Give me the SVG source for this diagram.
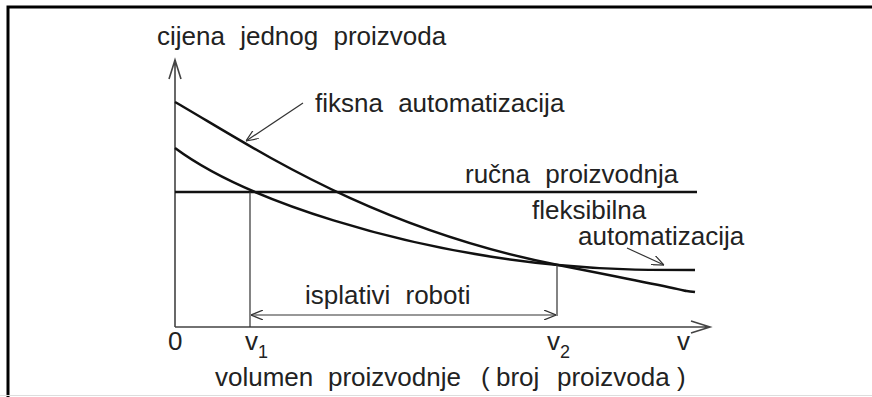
<svg xmlns="http://www.w3.org/2000/svg" width="872" height="397" viewBox="0 0 872 397">
<style>
text{font-family:"Liberation Sans",Arial,sans-serif;font-size:26px;fill:#222;word-spacing:8px}
.sub{font-size:18px}
.ax{stroke:#444;stroke-width:1.6;fill:none}
.cv{stroke:#111;stroke-width:2.5;fill:none}
.thin{stroke:#333;stroke-width:1.2;fill:none}
</style>
<defs>
<marker id="ah" viewBox="0 0 12 10" refX="12" refY="5" markerWidth="12" markerHeight="10" markerUnits="userSpaceOnUse" orient="auto-start-reverse">
<path d="M0,0 L12,5 L0,10" fill="none" stroke="#333" stroke-width="1.2"/>
</marker>
</defs>
<rect x="0" y="0" width="872" height="397" fill="#fff"/>
<path d="M8,397 V7 H872" fill="none" stroke="#000" stroke-width="3"/>
<line x1="0" y1="395.5" x2="872" y2="395.5" stroke="#ddd" stroke-width="1"/>
<g id="axes">
<path class="ax" d="M175,327 V60 M169,79 L175,60 L181,79"/>
<path class="ax" d="M175,327 H710 M691,321 L710,327 L691,333"/>
</g>
<g id="connectors">
<path class="cv" d="M175,192 H697" stroke-width="3.2"/>
<path class="cv" d="M175,102 C250,145 370,228 558,265 S660,287 695,292"/>
<path class="cv" d="M175,148 C245,200 400,250 558,265 C610,270 650,270 695,270"/>
<path class="thin" d="M250,192 V327 M557,265 V316"/>
<path class="thin" d="M251,315 H556" marker-start="url(#ah)" marker-end="url(#ah)"/>
<path class="thin" d="M303,103 L246,141" marker-end="url(#ah)"/>
<path class="thin" d="M627,248 L664,265" marker-end="url(#ah)"/>
</g>
<g id="labels">
<text x="157" y="45">cijena jednog proizvoda</text>
<text x="315" y="112">fiksna automatizacija</text>
<text x="465" y="183">ručna proizvodnja</text>
<text x="532" y="219">fleksibilna</text>
<text x="578" y="245">automatizacija</text>
<text x="305" y="304">isplativi roboti</text>
<text x="168" y="350">0</text>
<text x="245" y="350">v<tspan class="sub" dy="8">1</tspan></text>
<text x="547" y="350">v<tspan class="sub" dy="8">2</tspan></text>
<text x="677" y="350">v</text>
<text y="386"><tspan x="215">volumen</tspan><tspan x="328">proizvodnje</tspan><tspan x="481">(</tspan><tspan x="496">broj</tspan><tspan x="557">proizvoda</tspan><tspan x="677">)</tspan></text>
</g>
</svg>
